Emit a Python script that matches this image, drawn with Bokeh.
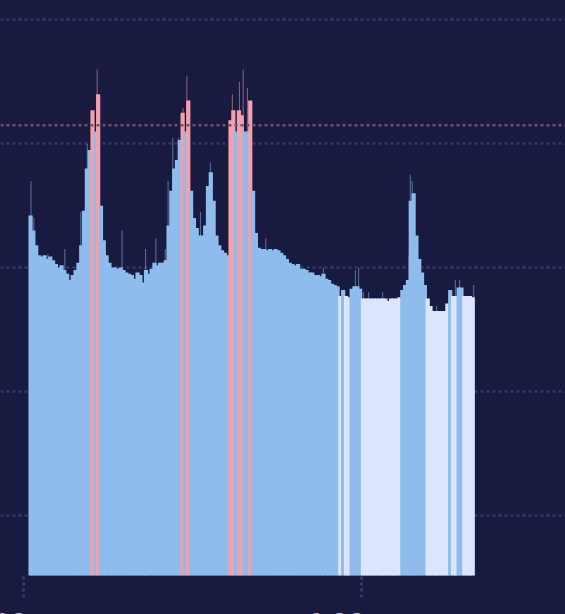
from bokeh.plotting import figure
from bokeh.models import ColumnDataSource, Grid, FixedTicker, Span
from bokeh.core.properties import value
from bokeh.embed import file_html
from bokeh.resources import INLINE

# ---------------- data ----------------
START_MIN = 6          # first bin starts at 0:06
STEP_MIN = 3           # 3-minute bins
VALUES = [
    74.2, 73.0, 71.8, 71.0, 70.9, 71.0, 70.7, 70.9, 70.6, 70.3,
    70.0, 70.2, 69.8, 69.5, 69.0, 69.4, 69.8, 70.4, 71.8, 74.6,
    78.0, 79.5, 82.7, 81.0, 84.0, 75.0, 72.2, 71.0, 70.4, 70.0,
    70.0, 69.9, 70.0, 69.8, 69.6, 69.5, 69.4, 69.1, 69.6, 69.4,
    68.8, 69.8, 69.5, 69.9, 70.4, 70.2, 70.4, 70.4, 70.6, 73.4,
    76.2, 78.0, 78.7, 80.3, 82.5, 81.0, 83.5, 76.2, 74.0, 73.2,
    72.6, 72.6, 73.4, 76.6, 77.7, 75.4, 72.6, 71.8, 71.4, 71.2,
    71.0, 81.9, 82.7, 81.0, 82.7, 82.3, 81.0, 81.0, 83.5, 76.2,
    72.8, 71.6, 71.5, 71.5, 71.4, 71.5, 71.4, 71.5, 71.4, 71.2,
    71.0, 70.7, 70.4, 70.3, 70.2, 70.3, 69.9, 69.9, 69.8, 69.6,
    69.6, 69.4, 69.4, 69.3, 69.5, 69.1, 69.0, 68.7, 68.6, 68.5,
    67.7, 68.2, 67.7, 67.6, 68.3, 68.5, 68.5, 68.3, 67.5, 67.5,
    67.5, 67.5, 67.5, 67.5, 67.5, 67.5, 67.5, 67.3, 67.5, 67.5,
    67.5, 67.6, 68.2, 68.6, 69.0, 75.4, 76.0, 72.6, 70.7, 69.6,
    68.6, 67.5, 66.9, 66.5, 66.5, 66.5, 66.5, 66.5, 67.1, 68.2,
    67.7, 67.7, 68.4, 68.4, 67.7, 67.7, 67.7, 67.6,
]
SPIKE_MIN = [8, 11, 26, 44, 61, 68, 78.5, 87, 105, 130, 141, 151, 154, 159, 165,
             170, 174, 188.5, 199, 222.5, 230, 234, 238.5, 258, 319.5, 353.5, 357,
             362, 367.5, 382.5, 410.5, 412, 414, 440, 460, 464.5, 479.5]
SPIKE_VAL = [77.0, 74.0, 71.1, 71.5, 74.5, 80.0, 86.0, 71.5, 73.0, 71.5, 72.4, 71.5,
             77.0, 80.5, 80.5, 82.9, 85.5, 74.5, 78.5, 84.0, 85.0, 86.0, 84.5, 72.4,
             70.0, 69.8, 70.0, 68.0, 68.0, 68.0, 71.0, 77.5, 77.0, 66.9, 69.0, 69.0,
             68.6]
THRESH_HIGH = 81.5
THRESH_LOW = 67.9
GRID_VALUES = [50, 60, 70, 80, 90]
TICK_MIN = [0, 360]
TICK_LABELS = ["0:00", "6:00"]
BASE = 45.13

# ---------------- style ----------------
BG = "#181a40"
BLUE = "#8ebcec"
PINK = "#f2a0ab"
LIGHT = "#dbe5fc"
GRID_C = "#313a6b"
THR_C = "#6f4f72"

def color_for(v):
    if v > THRESH_HIGH:
        return PINK
    if v < THRESH_LOW:
        return LIGHT
    return BLUE

centers = [START_MIN + STEP_MIN * (i + 0.5) for i in range(len(VALUES))]
bars = ColumnDataSource(dict(x=centers, top=VALUES, c=[color_for(v) for v in VALUES]))
spikes = ColumnDataSource(dict(x=SPIKE_MIN, top=SPIKE_VAL,
                               c=[PINK if v > THRESH_HIGH else BLUE for v in SPIKE_VAL]))

p = figure(width=565, height=614, x_range=(-24.5, 577.3), y_range=(41.98, 91.575),
           x_axis_type=None, y_axis_type=None, toolbar_location=None,
           output_backend="svg", min_border=0,
           background_fill_color=BG, border_fill_color=BG, outline_line_color=None)

g = Grid(dimension=1, ticker=FixedTicker(ticks=GRID_VALUES),
         grid_line_color=GRID_C, grid_line_dash="3 3", grid_line_width=2.5)
p.add_layout(g)

p.add_layout(Span(location=THRESH_HIGH, dimension="width", line_color=THR_C,
                  line_dash="3 3", line_width=2.5))

p.vbar(x="x", top="top", bottom=BASE, width=1.2, source=spikes,
       fill_color="c", line_color=None, fill_alpha=0.5)
# overlapping bars so that no seams show between neighbours
p.vbar(x="x", top="top", bottom=BASE, width=STEP_MIN + 1.5, source=bars,
       fill_color="c", line_color=None)

# dotted tick marks below the bars
p.segment(x0=TICK_MIN, y0=[45.05] * len(TICK_MIN), x1=TICK_MIN, y1=[43.35] * len(TICK_MIN),
          line_color=GRID_C, line_dash="3 3", line_width=3)

p.text(x=TICK_MIN, y=[42.67] * len(TICK_MIN), text=TICK_LABELS,
       text_font=value("Roboto"), text_font_size="31px", text_color="#c5c7e4",
       text_align="right", text_baseline="top", x_offset=4)

html = file_html(p, INLINE)
html = html.replace("</head>",
                    "<style>html,body{margin:0;padding:0;background:%s;overflow:hidden}</style></head>" % BG, 1)
open("out.html", "w").write(html)
